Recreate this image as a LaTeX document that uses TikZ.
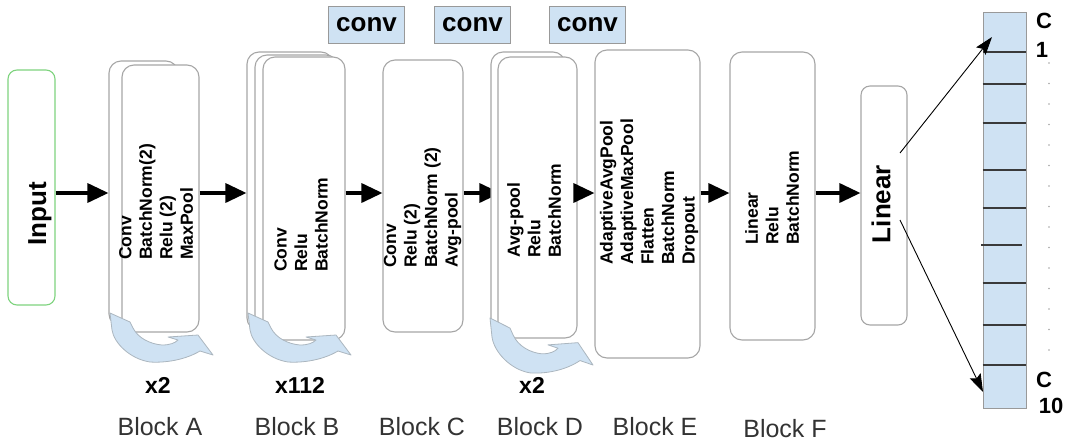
\documentclass[tikz,border=0pt]{standalone}
\usepackage{fontspec}
\setmainfont{Liberation Sans}
\usetikzlibrary{arrows.meta,fit,backgrounds}
\definecolor{lblue}{HTML}{CFE2F3}
\definecolor{bgray}{HTML}{A6A6A6}
\definecolor{igreen}{HTML}{7ED37E}
\definecolor{lbl}{HTML}{333333}
\definecolor{cellline}{HTML}{3A3A3A}
\newcommand{\reparrow}[2]{\begin{scope}[shift={(#1)},yscale=#2]\path[loopshape] (0,0) -- (20,9) -- (23,15) .. controls (28,25) and (40,31) .. (52,32) .. controls (60,32) and (65,30) .. (68,27) -- (58,24) -- (88,22) -- (103,42) -- (90,38) .. controls (75,47) and (55,50) .. (40,49) .. controls (20,46) and (4,30) .. (2,17) -- cycle;\end{scope}}
\begin{document}
\begin{tikzpicture}[x=1pt,y=-1pt,
 blk/.style={draw=bgray, line width=1.1pt, rounded corners=12pt, fill=white, inner sep=0pt},
 btext/.style={rotate=90, anchor=west, align=left, inner sep=0pt, font=\bfseries\fontsize{17.5}{20.5}\selectfont},
 mainarrow/.style={line width=3.4pt, -{Triangle[length=21pt,width=19pt]}},
 thinarrow/.style={line width=0.9pt, -{Stealth[length=18pt,width=12pt,inset=3pt]}},
 convbox/.style={draw=gray!80, fill=lblue, minimum width=76pt, minimum height=37pt, inner sep=0pt, font=\bfseries\fontsize{26}{30}\selectfont},
 mult/.style={font=\bfseries\fontsize{23}{26}\selectfont, anchor=base},
 blabel/.style={font=\fontsize{25}{28}\selectfont, text=lbl, anchor=base},
 clabel/.style={font=\bfseries\fontsize{22}{24}\selectfont, inner sep=0pt},
 loopshape/.style={fill=lblue, draw=lblue!55!gray, line width=0.8pt, line join=round}
]
\useasboundingbox (0,0) rectangle (1079,445);

% input
\node[draw=igreen, line width=1.1pt, rounded corners=9pt, fit={(8,70) (55,305)}, inner sep=0pt] (inp) {};
\node[rotate=90, font=\bfseries\fontsize{26}{30}\selectfont, inner sep=0pt] (inptext) at (40,214) {Input};

% conv labels
\node[convbox] (conv1) at (366.5,24.5) {conv};
\node[convbox] (conv2) at (472.5,24.5) {conv};
\node[convbox] (conv3) at (587.5,24.5) {conv};

% Block A
\node[blk, fit={(109,61) (178,326)}] (Aback) {};
\node[blk, fit={(122,65) (199,332)}] (A) {};
\node[btext] (Atext) at (156,260) {Conv\\BatchNorm(2)\\Relu (2)\\MaxPool};

% Block B
\node[blk, fit={(247,52) (333,330)}] (Bback2) {};
\node[blk, fit={(255,55) (338,335)}] (Bback1) {};
\node[blk, fit={(263,57) (345,340)}] (B) {};
\node[btext] (Btext) at (301,272) {Conv\\Relu\\BatchNorm};

% Block C
\node[blk, fit={(383,60) (463,332)}] (C) {};
\node[btext] (Ctext) at (422.5,268) {Conv\\Relu (2)\\BatchNorm (2)\\Avg-pool};

% Block D
\node[blk, fit={(491,52) (565,335)}] (Dback) {};
\node[blk, fit={(498,57) (577,338)}] (D) {};
\node[btext] (Dtext) at (534,258) {Avg-pool\\Relu\\BatchNorm};

% Block E
\node[blk, fit={(595,50) (700,358)}] (E) {};
\node[btext] (Etext) at (649,265) {AdaptiveAvgPool\\AdaptiveMaxPool\\Flatten\\BatchNorm\\Dropout};

% Block F
\node[blk, fit={(730,52) (815,340)}] (F) {};
\node[btext] (Ftext) at (772,245) {Linear\\Relu\\BatchNorm};

% Linear
\node[blk, rounded corners=9pt, fit={(861,86) (907,325)}] (lin) {};
\node[rotate=90, font=\bfseries\fontsize{26}{30}\selectfont, inner sep=0pt] (lintext) at (881,204) {Linear};

% output vector
\node[draw=gray!80, fill=lblue, line width=0.9pt, fit={(983,12) (1026,408)}, inner sep=0pt] (out) {};
\foreach \yy in {52,84,123,170,208,283,325,365}
  \draw[cellline, line width=1.2pt] (out.west |- 0,\yy) -- (out.east |- 0,\yy);
\draw[cellline, line width=1.2pt] (981,245) -- (1022,245);
\foreach \i in {0,...,14} \fill[gray!70] (1049,63+20.5*\i) circle (0.9pt);
\node[clabel] (cA) at (1044,21) {C};
\node[clabel] (cB) at (1042,50) {1};
\node[clabel] (cC) at (1044,380) {C};
\node[clabel] (cD) at (1051,406) {10};

% repetition arrows
\reparrow{110,313}{1}
\reparrow{248,313}{1}
\reparrow{490,318}{1.12}

% multipliers and labels
\node[mult] (mA) at (158,393) {x2};
\node[mult] (mB) at (300,393) {x112};
\node[mult] (mD) at (532,393) {x2};
\node[blabel] (lA) at (160,435) {Block A};
\node[blabel] (lB) at (297,435) {Block B};
\node[blabel] (lC) at (422,435) {Block C};
\node[blabel] (lD) at (540,435) {Block D};
\node[blabel] (lE) at (655,435) {Block E};
\node[blabel] (lF) at (785,437) {Block F};

% main arrows
\coordinate (ay) at (0,193);
\draw[mainarrow] (inp.east |- ay) -- (Aback.west |- ay);
\draw[mainarrow] (A.east |- ay) -- (Bback2.west |- ay);
\draw[mainarrow] (B.east |- ay) -- (C.west |- ay);
\begin{scope}[on background layer]
\draw[mainarrow, shorten >=-10pt] (C.east |- ay) -- (Dback.west |- ay);
\end{scope}
\draw[mainarrow] (D.east |- ay) -- (E.west |- ay);
\draw[mainarrow] (E.east |- ay) -- (F.west |- ay);
\draw[mainarrow] (F.east |- ay) -- (lin.west |- ay);

% output arrows
\coordinate (l1) at (900,153);
\coordinate (l2) at (900,220);
\coordinate (o1) at (992,37);
\coordinate (o10) at (983,392);
\draw[thinarrow] (l1) -- (o1);
\draw[thinarrow] (l2) -- (o10);
\end{tikzpicture}
\end{document}
